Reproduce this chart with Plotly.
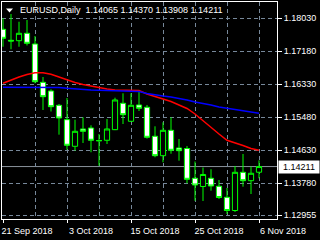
import plotly.graph_objects as go
import pandas as pd

symbol = "EURUSD"
timeframe = "Daily"

dates = ["2018-09-21", "2018-09-24", "2018-09-25", "2018-09-26", "2018-09-27", "2018-09-28",
         "2018-10-01", "2018-10-02", "2018-10-03", "2018-10-04", "2018-10-05", "2018-10-08",
         "2018-10-09", "2018-10-10", "2018-10-11", "2018-10-12", "2018-10-15", "2018-10-16",
         "2018-10-17", "2018-10-18", "2018-10-19", "2018-10-22", "2018-10-23", "2018-10-24",
         "2018-10-25", "2018-10-26", "2018-10-29", "2018-10-30", "2018-10-31", "2018-11-01",
         "2018-11-02", "2018-11-05", "2018-11-06"]

opens = [1.17747, 1.17463, 1.17453, 1.17644, 1.17368, 1.16381, 1.16157, 1.15789, 1.15418,
         1.14733, 1.15179, 1.15204, 1.14882, 1.14888, 1.15161, 1.15841, 1.15377, 1.15797,
         1.15738, 1.14991, 1.14491, 1.15145, 1.14689, 1.14676, 1.13909, 1.13698, 1.13909,
         1.13703, 1.13419, 1.13079, 1.14063, 1.13847, 1.14065]
highs = [1.18030, 1.18141, 1.17942, 1.17986, 1.17574, 1.16518, 1.16201, 1.15823, 1.15977,
         1.15418, 1.15480, 1.15274, 1.15050, 1.15436, 1.15985, 1.16098, 1.16098, 1.16183,
         1.15797, 1.15248, 1.15351, 1.15480, 1.14921, 1.14741, 1.14342, 1.14187, 1.14141,
         1.13865, 1.13659, 1.14226, 1.14535, 1.14213, 1.14370]
lows = [1.17298, 1.17232, 1.17298, 1.17330, 1.16356, 1.15668, 1.15629, 1.15032, 1.14645,
        1.14620, 1.14818, 1.14579, 1.14233, 1.14792, 1.15150, 1.15307, 1.15360, 1.15642,
        1.14930, 1.14450, 1.14321, 1.14542, 1.14362, 1.13780, 1.13330, 1.13324, 1.13589,
        1.13376, 1.12989, 1.13041, 1.13692, 1.13504, 1.13908]
closes = [1.17515, 1.17445, 1.17644, 1.17386, 1.16397, 1.16011, 1.15753, 1.15462, 1.14759,
          1.15119, 1.15119, 1.14888, 1.14876, 1.15179, 1.15926, 1.15547, 1.15789, 1.15712,
          1.14965, 1.14491, 1.15145, 1.14630, 1.14620, 1.13883, 1.13736, 1.14007, 1.13710,
          1.13414, 1.13079, 1.14063, 1.13847, 1.14038, 1.14211]

ma_red = [1.16356, 1.16441, 1.16518, 1.16582, 1.16629, 1.16629, 1.16588, 1.16518, 1.16441,
          1.16376, 1.16325, 1.16281, 1.16235, 1.16209, 1.16183, 1.16183, 1.16183, 1.16170,
          1.16080, 1.16016, 1.15951, 1.15887, 1.15797, 1.15707, 1.15565, 1.15385, 1.15230,
          1.15050, 1.14888, 1.14831, 1.14754, 1.14676, 1.14630]
ma_blue = [1.16253, 1.16253, 1.16253, 1.16253, 1.16253, 1.16253, 1.16253, 1.16248, 1.16227,
           1.16209, 1.16196, 1.16183, 1.16176, 1.16170, 1.16170, 1.16170, 1.16165, 1.16145,
           1.16093, 1.16054, 1.16029, 1.16003, 1.15969, 1.15926, 1.15874, 1.15841, 1.15797,
           1.15745, 1.15712, 1.15681, 1.15655, 1.15617, 1.15583]

ytick_vals = [1.12955, 1.13780, 1.14630, 1.15480, 1.16330, 1.17180, 1.18030]

idx = list(range(len(dates)))
dts = pd.to_datetime(dates)
label_idx = [i for i in idx if i % 8 == 0]
label_txt = [f"{dts[i].day} {dts[i].strftime('%b %Y')}" for i in label_idx]

FONT = "Liberation Sans"
GREEN = "#00ff00"
GRID = "#77889a"

fig = go.Figure()
fig.add_trace(go.Candlestick(
    x=idx, open=opens, high=highs, low=lows, close=closes,
    increasing=dict(line=dict(color=GREEN, width=1), fillcolor="black"),
    decreasing=dict(line=dict(color=GREEN, width=1), fillcolor="white"),
    whiskerwidth=0, hoverinfo="skip"))
fig.add_trace(go.Scatter(x=idx, y=ma_red, mode="lines",
                         line=dict(color="#ff0000", width=1.5), hoverinfo="skip"))
fig.add_trace(go.Scatter(x=idx, y=ma_blue, mode="lines",
                         line=dict(color="#0000ff", width=1.5), hoverinfo="skip"))

last = closes[-1]
fig.add_shape(type="line", xref="paper", x0=0, x1=1, yref="y", y0=last, y1=last,
              line=dict(color="#8a929c", width=1), layer="below")

# header
fig.add_shape(type="path", xref="paper", yref="paper",
              path="M 0.0146 0.9700 L 0.0401 0.9700 L 0.0273 0.9516 Z",
              fillcolor="white", line=dict(width=0))
header = (f"{symbol},{timeframe}\u00a0\u00a0{opens[-1]:.5f} {highs[-1]:.5f} "
          f"{lows[-1]:.5f} {closes[-1]:.5f}")
fig.add_annotation(text=header, xref="paper", yref="paper", x=0.058, y=0.963,
                   xanchor="left", yanchor="middle", showarrow=False,
                   font=dict(family=FONT, size=9, color="white"))
# current price label
fig.add_annotation(text=f"{last:.5f}", xref="paper", yref="y", x=1, y=last,
                   xanchor="left", yanchor="middle", xshift=1, showarrow=False,
                   bgcolor="white", width=38, height=10, borderpad=1, align="center",
                   font=dict(family=FONT, size=9, color="black"))

fig.update_layout(
    width=320, height=240, margin=dict(l=2, r=43, t=2, b=21),
    paper_bgcolor="black", plot_bgcolor="black", showlegend=False,
    boxgap=0.35, boxgroupgap=0,
    xaxis=dict(range=[-0.125, 34.25], rangeslider=dict(visible=False),
               tickvals=label_idx, ticktext=label_txt, ticks="outside", ticklen=3,
               tickcolor="white", ticklabelshift=24,
               tickfont=dict(family=FONT, size=9, color="white"),
               showgrid=True, gridcolor=GRID, griddash="4px,3px", gridwidth=1,
               minor=dict(dtick=4, tick0=0, showgrid=True, gridcolor=GRID,
                          griddash="4px,3px", gridwidth=1, ticks=""),
               showline=True, linecolor="white", linewidth=1, mirror=True,
               zeroline=False, fixedrange=True),
    yaxis=dict(side="right", range=[1.12860, 1.18450], tickvals=ytick_vals,
               ticktext=[f"{v:.5f}" for v in ytick_vals], ticks="outside", ticklen=4,
               tickcolor="white", tickfont=dict(family=FONT, size=9, color="white"),
               showgrid=True, gridcolor=GRID, griddash="4px,3px", gridwidth=1,
               showline=True, linecolor="white", linewidth=1, mirror=True,
               zeroline=False, fixedrange=True),
)

fig.write_html("out.html")
